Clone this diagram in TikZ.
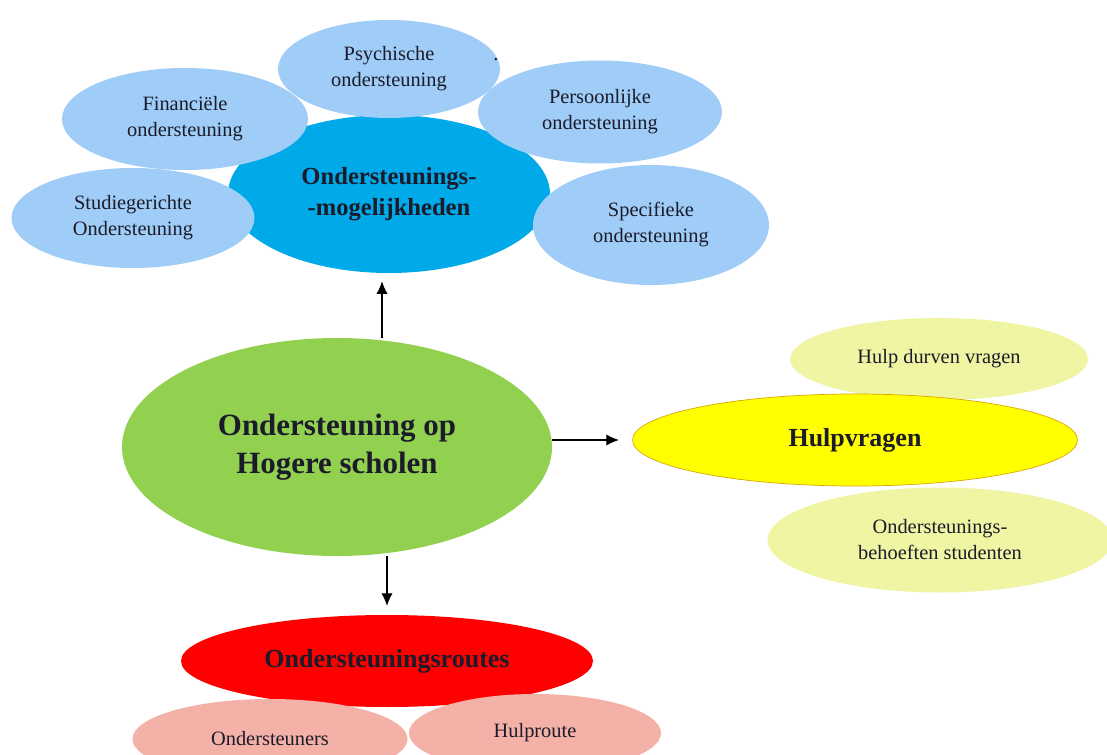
\documentclass[tikz,border=0pt]{standalone}
\usepackage{fontspec}
\setmainfont{Liberation Serif}
\usetikzlibrary{shapes.geometric,arrows.meta}
\definecolor{txtcol}{HTML}{1B1B2A}
\definecolor{hubblue}{HTML}{00A9E8}
\definecolor{satblue}{HTML}{9FCDF7}
\definecolor{hubgreen}{HTML}{92D050}
\definecolor{hubyellow}{HTML}{FFFF00}
\definecolor{yellowrim}{HTML}{D9A800}
\definecolor{satyellow}{HTML}{EFF5A3}
\definecolor{hubred}{HTML}{FF0000}
\definecolor{satpink}{HTML}{F4B1A8}
\tikzset{
bubble/.style={ellipse,inner sep=0pt,align=center,text=txtcol},
sz/.style 2 args={minimum width=#1*0.025cm,minimum height=#2*0.025cm},
small/.style={font=\fontsize{14.5}{18.5}\selectfont},
head/.style={font=\bfseries\fontsize{17.5}{22}\selectfont},
arr/.style={-{Latex[length=9pt,width=8pt]},line width=0.8pt,black}
}
\begin{document}
\begin{tikzpicture}[x=0.025cm,y=-0.025cm]
\clip (0,0) rectangle (1107,755);
\fill[white] (0,0) rectangle (1107,755);
\node[bubble,sz={322}{158},fill=hubblue,head] (mogelijk) at (389,194) {Ondersteunings-\\-mogelijkheden};
\foreach \nm/\cx/\cy/\w/\h/\txt in {psych/389/69/222/98/{Psychische\\ondersteuning},financ/185/119/246/102/{Financiële\\ondersteuning},studie/133/218/243/100/{Studiegerichte\\Ondersteuning},persoon/600/112/244/103/{Persoonlijke\\ondersteuning},specifiek/651/225/236/120/{Specifieke\\ondersteuning}}{\node[bubble,small,sz={\w}{\h},fill=satblue] (\nm) at (\cx,\cy) {\txt};}
\node[text=txtcol,small] (stip) at (496,60) {.};
\node[bubble,sz={430}{218},fill=hubgreen,font=\bfseries\fontsize{22}{27}\selectfont] (hoger) at (337,447) {Ondersteuning op\\Hogere scholen};
\node[bubble,small,sz={298}{82},fill=satyellow] (durven) at (939,359) {Hulp durven vragen};
\node[bubble,small,sz={345}{105},fill=satyellow] (behoefte) at (940,540) {Ondersteunings-\\behoeften studenten};
\node[bubble,sz={445}{92},fill=hubyellow,draw=yellowrim,line width=0.5pt,font=\bfseries\fontsize{18.5}{22}\selectfont] (hulpvr) at (855,440) {Hulpvragen};
\node[bubble,sz={412}{92},fill=hubred,font=\bfseries\fontsize{18.5}{22}\selectfont] (routes) at (387,661) {Ondersteuningsroutes};
\node[bubble,small,sz={275}{80},fill=satpink] (steuners) at (270,739) {Ondersteuners};
\node[bubble,small,sz={252}{78},fill=satpink] (hulproute) at (535,733) {Hulproute};
\coordinate (upx) at (382,0);
\draw[arr,shorten >=0.2cm] (hoger.north -| upx) -- (mogelijk.south -| upx);
\draw[arr,shorten >=0.33cm] (hoger.east |- hulpvr.west) -- (hulpvr.west);
\draw[arr,shorten >=0.22cm] (hoger.south -| routes.north) -- (routes.north);
\end{tikzpicture}
\end{document}
